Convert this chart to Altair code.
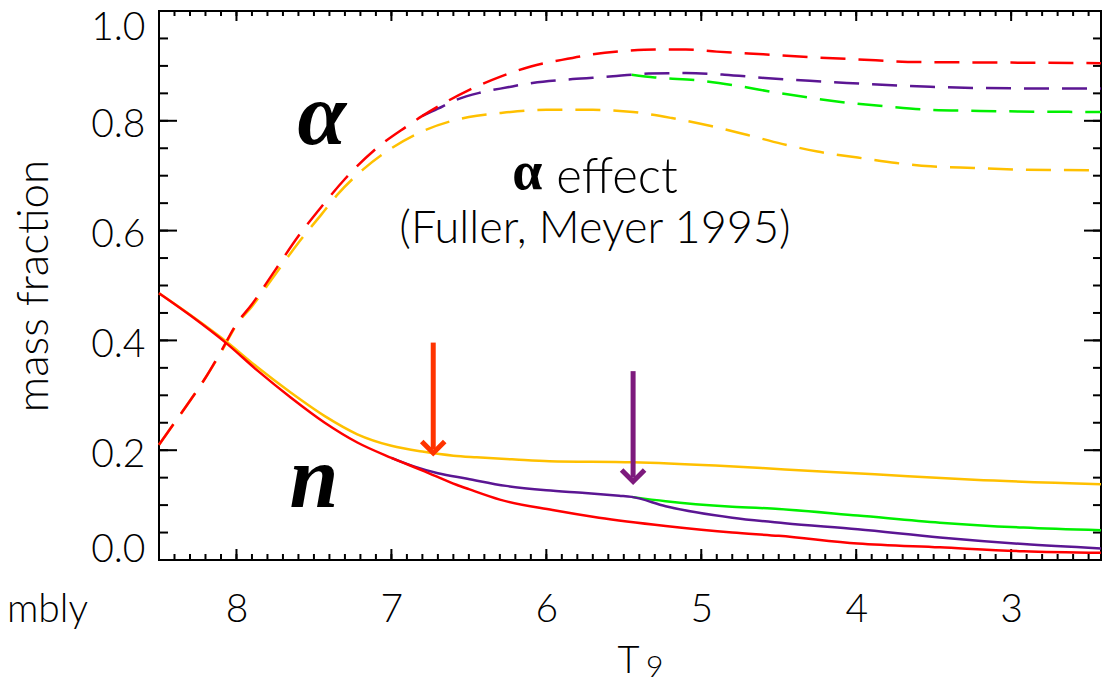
import altair as alt
import pandas as pd

# ---------------- data ----------------
# alpha mass fraction (dashed curves)
alpha_red_T = [8.5, 8.4, 8.3, 8.2, 8.1, 8.0, 7.9, 7.75, 7.6, 7.45, 7.3, 7.1, 6.9, 6.8, 6.7, 6.5, 6.3,
               6.1, 5.9, 5.7, 5.5, 5.3, 5.1, 4.9, 4.6, 4.3, 4.0, 3.6, 3.0, 2.42]
alpha_red_v = [0.21, 0.25, 0.29, 0.332, 0.38, 0.43, 0.466, 0.528, 0.59, 0.644, 0.694, 0.749, 0.790, 0.809,
               0.826, 0.856, 0.880, 0.899, 0.911, 0.921, 0.927, 0.930, 0.930, 0.926, 0.921, 0.916,
               0.912, 0.907, 0.906, 0.905]

alpha_purple_T = [6.8, 6.7, 6.6, 6.43, 6.25, 6.09, 5.83, 5.57, 5.45, 5.34, 5.1, 4.85, 4.59, 4.3, 4.06,
                  3.52, 2.92, 2.42]
alpha_purple_v = [0.809, 0.822, 0.836, 0.851, 0.861, 0.869, 0.876, 0.881, 0.884, 0.886, 0.887, 0.884,
                  0.878, 0.873, 0.869, 0.862, 0.859, 0.859]

alpha_green_T = [5.45, 5.3, 5.0, 4.75, 4.55, 4.3, 4.06, 3.8, 3.52, 3.2, 2.95, 2.42]
alpha_green_v = [0.884, 0.879, 0.873, 0.863, 0.853, 0.842, 0.833, 0.826, 0.820, 0.818, 0.817, 0.816]

alpha_yellow_T = [8.5, 8.4, 8.3, 8.2, 8.1, 8.0, 7.9, 7.75, 7.6, 7.45, 7.35, 7.18, 7.0, 6.79, 6.5, 6.3,
                  6.0, 5.7, 5.44, 5.19, 4.93, 4.7, 4.48, 4.25, 3.99, 3.74, 3.52, 3.24, 2.92, 2.42]
alpha_yellow_v = [0.21, 0.25, 0.29, 0.332, 0.378, 0.428, 0.462, 0.52, 0.578, 0.63, 0.665, 0.712, 0.750,
                  0.782, 0.807, 0.814, 0.820, 0.820, 0.816, 0.805, 0.790, 0.774, 0.758, 0.744, 0.733,
                  0.723, 0.717, 0.714, 0.711, 0.710]

# neutron mass fraction (solid curves)
n_red_T = [8.5, 8.29, 8.07, 7.86, 7.65, 7.43, 7.22, 7.0, 6.79, 6.58, 6.5, 6.3, 5.96, 5.66, 5.23, 4.8,
           4.5, 3.99, 3.46, 2.92, 2.42]
n_red_v = [0.486, 0.444, 0.396, 0.344, 0.296, 0.250, 0.214, 0.186, 0.162, 0.137, 0.129, 0.11, 0.091,
           0.077, 0.062, 0.050, 0.044, 0.030, 0.023, 0.016, 0.013]

n_purple_T = [7.0, 6.85, 6.7, 6.51, 6.26, 6.0, 5.75, 5.53, 5.45, 5.23, 4.8, 4.46, 3.99, 3.46, 2.92, 2.42]
n_purple_v = [0.186, 0.170, 0.158, 0.148, 0.135, 0.127, 0.122, 0.117, 0.115, 0.098, 0.077, 0.067,
              0.056, 0.041, 0.029, 0.021]

n_green_T = [5.45, 5.23, 4.8, 4.5, 3.99, 3.46, 2.92, 2.42]
n_green_v = [0.115, 0.107, 0.097, 0.093, 0.081, 0.068, 0.059, 0.054]

n_yellow_T = [8.5, 8.29, 8.07, 7.86, 7.65, 7.43, 7.22, 7.0, 6.79, 6.6, 6.45, 6.2, 5.98, 5.44, 4.91,
              4.46, 3.88, 3.24, 2.42]
n_yellow_v = [0.486, 0.445, 0.399, 0.350, 0.305, 0.262, 0.229, 0.208, 0.197, 0.190, 0.187, 0.183,
              0.180, 0.178, 0.172, 0.165, 0.156, 0.146, 0.138]

# arrows
arrow_names = ["arrow red", "arrow purple"]
arrow_T = [6.73, 5.44]
arrow_top = [0.396, 0.344]
arrow_tip = [0.19, 0.138]

# annotations
big_labels = ["α", "n"]
big_T = [7.449, 7.5]
big_v = [0.757, 0.096]
effect_alpha = ["α"]
effect_alpha_T = [6.122]
effect_alpha_v = [0.675]
effect_word = ["effect"]
effect_word_T = [5.936]
effect_word_v = [0.669]
ref_text = ["(Fuller, Meyer 1995)"]
ref_T = [5.686]
ref_v = [0.578]
cut_text = ["mbly"]
x_title = "T"
x_title_sub = ["9"]
y_title = "mass fraction"

# axis ticks
X_MAJOR = [8, 7, 6, 5, 4, 3]
X_MINOR = [round(8.4 - 0.1 * i, 1) for i in range(60)]
Y_MAJOR = [0.0, 0.2, 0.4, 0.6, 0.8, 1.0]
Y_MINOR = [round(0.05 * i, 2) for i in range(21)]

COLOR_DOMAIN = ["yellow", "green", "purple", "red", "arrow red", "arrow purple"]
COLOR_RANGE = ["#FFC000", "#00F000", "#5B1693", "#FF0000", "#FF3300", "#7D1A7D"]

W, H = 942, 549
FONT = "Lato"


def make_df(pairs):
    rows = []
    for name, ts, vs in pairs:
        for t, v in zip(ts, vs):
            rows.append({"series": name, "T": t, "v": v})
    return pd.DataFrame(rows)


df_alpha = make_df([("yellow", alpha_yellow_T, alpha_yellow_v),
                    ("green", alpha_green_T, alpha_green_v),
                    ("purple", alpha_purple_T, alpha_purple_v),
                    ("red", alpha_red_T, alpha_red_v)])
df_n = make_df([("yellow", n_yellow_T, n_yellow_v),
                ("green", n_green_T, n_green_v),
                ("purple", n_purple_T, n_purple_v),
                ("red", n_red_T, n_red_v)])
df_arrow = pd.DataFrame({"series": arrow_names, "T": arrow_T, "top": arrow_top, "tip": arrow_tip})
df_big = pd.DataFrame({"label": big_labels, "T": big_T, "v": big_v})
df_ea = pd.DataFrame({"label": effect_alpha, "T": effect_alpha_T, "v": effect_alpha_v})
df_ew = pd.DataFrame({"label": effect_word, "T": effect_word_T, "v": effect_word_v})
df_ref = pd.DataFrame({"label": ref_text, "T": ref_T, "v": ref_v})
df_cut = pd.DataFrame({"label": cut_text})
df_sub = pd.DataFrame({"label": x_title_sub})
df_xmaj = pd.DataFrame({"tx": X_MAJOR})
df_xmin = pd.DataFrame({"tx": X_MINOR})
df_ymaj = pd.DataFrame({"ty": Y_MAJOR})
df_ymin = pd.DataFrame({"ty": Y_MINOR})

xs = alt.Scale(domain=[2.42, 8.5], reverse=True, nice=False, zero=False)
ys = alt.Scale(domain=[0, 1], nice=False, zero=False)
cs = alt.Scale(domain=COLOR_DOMAIN, range=COLOR_RANGE)

LBL = dict(ticks=False, domain=False, grid=False, labelFontSize=39, labelFont=FONT,
           labelFontWeight=300, labelColor="black", labelFlush=False, labelOverlap=False,
           labelBaseline="alphabetic")

ax_x_labels = alt.Axis(orient="bottom", values=X_MAJOR, format="d", labelPadding=61,
                       title=x_title, titleFont=FONT, titleFontWeight=300,
                       titleFontSize=38, titleColor="black", titleX=469, titleY=112,
                       titleAlign="center", titleBaseline="alphabetic", **LBL)
ax_y_mid = alt.Axis(orient="left", values=Y_MAJOR[1:-1], format=".1f", labelPadding=14,
                    labelOffset=16, title=y_title, titleFont=FONT, titleFontWeight=300,
                    titleFontSize=44, titleColor="black", titleAngle=270, titleX=-112,
                    titleY=274.5, titleAlign="center", titleBaseline="alphabetic", **LBL)
ax_y_top = alt.Axis(orient="left", values=Y_MAJOR[-1:], format=".1f", labelPadding=14,
                    labelOffset=28, title=None, **LBL)
ax_y_bot = alt.Axis(orient="left", values=Y_MAJOR[:1], format=".1f", labelPadding=14,
                    labelOffset=1, title=None, **LBL)

l_alpha = alt.Chart(df_alpha).mark_line(strokeDash=[25, 13], strokeWidth=2.5,
                                         interpolate="monotone").encode(
    x=alt.X("T:Q", scale=xs, axis=ax_x_labels),
    y=alt.Y("v:Q", scale=ys, axis=ax_y_mid),
    color=alt.Color("series:N", scale=cs, legend=None),
)

l_n = alt.Chart(df_n).mark_line(strokeWidth=2.5, interpolate="monotone").encode(
    x=alt.X("T:Q", scale=xs, axis=None),
    y=alt.Y("v:Q", scale=ys, axis=ax_y_top),
    color=alt.Color("series:N", scale=cs, legend=None),
)

# inward ticks of the box frame (tick values through the scales)
TICK = dict(color="black", strokeWidth=2)
t_bot_maj = alt.Chart(df_xmaj).mark_rule(**TICK).encode(
    x=alt.X("tx:Q", scale=xs, axis=None), y=alt.value(H), y2=alt.value(H - 11))
t_bot_min = alt.Chart(df_xmin).mark_rule(**TICK).encode(
    x=alt.X("tx:Q", scale=xs, axis=None), y=alt.value(H), y2=alt.value(H - 6))
t_top_maj = alt.Chart(df_xmaj).mark_rule(**TICK).encode(
    x=alt.X("tx:Q", scale=xs, axis=None), y=alt.value(0), y2=alt.value(10))
t_top_min = alt.Chart(df_xmin).mark_rule(**TICK).encode(
    x=alt.X("tx:Q", scale=xs, axis=None), y=alt.value(0), y2=alt.value(5))
t_left_maj = alt.Chart(df_ymaj).mark_rule(**TICK).encode(
    y=alt.Y("ty:Q", scale=ys, axis=None), x=alt.value(0), x2=alt.value(18))
t_left_min = alt.Chart(df_ymin).mark_rule(**TICK).encode(
    y=alt.Y("ty:Q", scale=ys, axis=None), x=alt.value(0), x2=alt.value(9))
t_right_maj = alt.Chart(df_ymaj).mark_rule(**TICK).encode(
    y=alt.Y("ty:Q", scale=ys, axis=None), x=alt.value(W), x2=alt.value(W - 17))
t_right_min = alt.Chart(df_ymin).mark_rule(**TICK).encode(
    y=alt.Y("ty:Q", scale=ys, axis=None), x=alt.value(W), x2=alt.value(W - 8))

l_shaft = alt.Chart(df_arrow).transform_calculate(shaft_end="datum.tip + 0.012").mark_rule(
    strokeWidth=5).encode(
    x=alt.X("T:Q", scale=xs, axis=None),
    y=alt.Y("top:Q", scale=ys, axis=ax_y_bot),
    y2="shaft_end:Q",
    color=alt.Color("series:N", scale=cs, legend=None),
)

l_head = alt.Chart(df_arrow).transform_calculate(head="datum.tip + 0.005").mark_point(
    shape="M-1,-1L0,0L1,-1", filled=False, strokeWidth=5, size=529, opacity=1,
    strokeJoin="miter").encode(
    x=alt.X("T:Q", scale=xs, axis=None),
    y=alt.Y("head:Q", scale=ys, axis=None),
    color=alt.Color("series:N", scale=cs, legend=None),
)

l_big = alt.Chart(df_big).mark_text(font="Liberation Serif", fontStyle="italic", fontWeight="bold",
                                     fontSize=88, align="center", baseline="alphabetic",
                                     color="black").encode(
    x=alt.X("T:Q", scale=xs, axis=None),
    y=alt.Y("v:Q", scale=ys, axis=None),
    text="label:N",
)

l_ea = alt.Chart(df_ea).mark_text(font="Liberation Serif", fontWeight="bold", fontSize=54,
                                   align="center", baseline="alphabetic", color="black").encode(
    x=alt.X("T:Q", scale=xs, axis=None),
    y=alt.Y("v:Q", scale=ys, axis=None),
    text="label:N",
)

l_ew = alt.Chart(df_ew).mark_text(font=FONT, fontWeight=300, fontSize=49, align="left",
                                   baseline="alphabetic", color="black").encode(
    x=alt.X("T:Q", scale=xs, axis=None),
    y=alt.Y("v:Q", scale=ys, axis=None),
    text="label:N",
)

l_ref = alt.Chart(df_ref).mark_text(font=FONT, fontWeight=300, fontSize=45, align="center",
                                     baseline="alphabetic", color="black").encode(
    x=alt.X("T:Q", scale=xs, axis=None),
    y=alt.Y("v:Q", scale=ys, axis=None),
    text="label:N",
)

l_cut = alt.Chart(df_cut).mark_text(font=FONT, fontWeight=300, fontSize=39, align="right",
                                     baseline="alphabetic", color="black").encode(
    x=alt.value(-71),
    y=alt.value(611),
    text="label:N",
)

l_sub = alt.Chart(df_sub).mark_text(font=FONT, fontWeight=300, fontSize=30, align="left",
                                     baseline="alphabetic", color="black").encode(
    x=alt.value(487),
    y=alt.value(666),
    text="label:N",
)

chart = alt.layer(
    t_bot_maj, t_bot_min, t_top_maj, t_top_min,
    t_left_maj, t_left_min, t_right_maj, t_right_min,
    l_alpha, l_n, l_shaft, l_head, l_big, l_ea, l_ew, l_ref, l_cut, l_sub
).resolve_axis(
    x="independent", y="independent"
).properties(
    width=W, height=H,
    padding={"left": 151, "top": 3, "right": 1, "bottom": 119},
    autosize=alt.AutoSizeParams(type="none"),
    background="white",
).configure_view(
    stroke="black", strokeWidth=2
).configure_axis(
    grid=False
)

chart.save("out.html", embed_options={"renderer": "svg", "actions": False})
